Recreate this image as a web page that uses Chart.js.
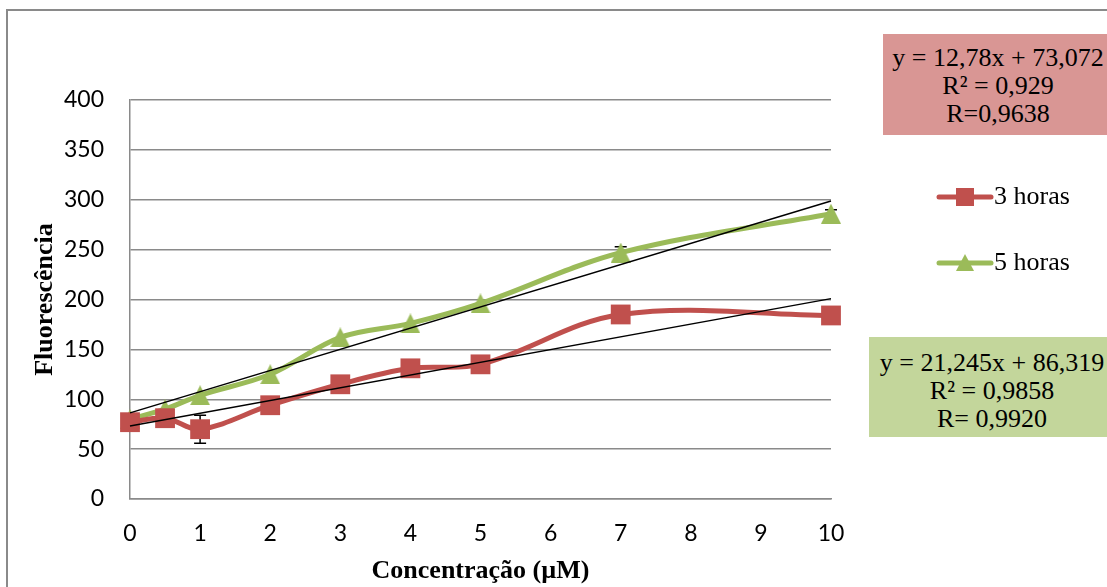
<!DOCTYPE html>
<html><head><meta charset="utf-8">
<script src="https://cdn.jsdelivr.net/npm/chart.js@4"></script>
<style>
html,body{margin:0;padding:0;background:#fff;overflow:hidden;width:1107px;height:587px}
#wrap{position:relative;width:1107px;height:587px;overflow:hidden}
#frame{position:absolute;left:6px;top:9px;width:1130px;height:640px;border:2px solid #8a8a8a;box-sizing:border-box;pointer-events:none}
canvas{position:absolute;left:0;top:0}
.eq{position:absolute;font-family:"Liberation Serif","Times New Roman",serif;font-size:26px;line-height:28px;color:#000;text-align:center;box-sizing:border-box;white-space:nowrap}
#eqRed{left:883px;top:34px;width:230px;height:101px;background:#D99694;padding-top:10px}
#eqGreen{left:869px;top:337px;width:246px;height:100px;background:#C3D69B;padding-top:12px}
</style></head>
<body>
<div id="wrap">
<canvas id="c" width="1107" height="587"></canvas>
<div id="frame"></div>
<div class="eq" id="eqRed">y = 12,78x + 73,072<br>R² = 0,929<br>R=0,9638</div>
<div class="eq" id="eqGreen">y = 21,245x + 86,319<br>R² = 0,9858<br>R= 0,9920</div>
</div>
<script>
const xValues = [0, 0.5, 1, 2, 3, 4, 5, 7, 10];
const red3h   = [77, 81, 70, 94, 115, 131, 135, 185, 184];
const green5h = [80, 90, 104, 125, 162, 176, 196, 247, 286];
const red3hErr   = [0, 0, 14, 0, 0, 0, 0, 0, 0];
const green5hErr = [0, 0, 0, 0, 0, 0, 0, 6, 4];
const trendX = [0, 10];
const red3hTrend   = [73.072, 200.872];
const green5hTrend = [86.319, 298.769];
const yTicks = [0, 50, 100, 150, 200, 250, 300, 350, 400];
const xTicks = [0, 1, 2, 3, 4, 5, 6, 7, 8, 9, 10];
const seriesNames = ['3 horas', '5 horas'];

const RED = '#C0504D', GREEN = '#9BBB59';
const pts = (xs, ys) => xs.map((x, i) => ({x: x, y: ys[i]}));

function triangleImage(w, h, color) {
  const c = document.createElement('canvas');
  c.width = w; c.height = h;
  const g = c.getContext('2d');
  g.fillStyle = color;
  g.beginPath(); g.moveTo(w / 2, 0); g.lineTo(w, h); g.lineTo(0, h); g.closePath(); g.fill();
  return c;
}
const triMarker = triangleImage(20, 20, GREEN);

const errorBars = {
  id: 'errorBars',
  beforeDatasetsDraw(chart) {
    const ctx = chart.ctx, xs = chart.scales.x, ys = chart.scales.y;
    const sets = [[red3h, red3hErr], [green5h, green5hErr]];
    ctx.save();
    ctx.strokeStyle = '#000'; ctx.lineWidth = 1.5;
    sets.forEach(([vals, errs]) => {
      vals.forEach((v, i) => {
        if (!errs[i]) return;
        const px = xs.getPixelForValue(xValues[i]);
        const top = ys.getPixelForValue(v + errs[i]);
        const bot = ys.getPixelForValue(v - errs[i]);
        ctx.beginPath();
        ctx.moveTo(px, top); ctx.lineTo(px, bot);
        ctx.moveTo(px - 6, top); ctx.lineTo(px + 6, top);
        ctx.moveTo(px - 6, bot); ctx.lineTo(px + 6, bot);
        ctx.stroke();
      });
    });
    ctx.restore();
  }
};

const customLegend = {
  id: 'customLegend',
  afterDraw(chart) {
    const ctx = chart.ctx;
    const items = [
      {name: seriesNames[0], color: RED, style: 'rect', y: 197},
      {name: seriesNames[1], color: GREEN, style: 'triangle', y: 263}
    ];
    ctx.save();
    items.forEach(it => {
      ctx.strokeStyle = it.color; ctx.lineWidth = 5; ctx.lineCap = 'round';
      ctx.beginPath(); ctx.moveTo(939, it.y); ctx.lineTo(991, it.y); ctx.stroke();
      ctx.fillStyle = it.color;
      ctx.beginPath();
      if (it.style === 'rect') {
        ctx.rect(956, it.y - 9, 18, 18);
      } else {
        ctx.moveTo(965, it.y - 9);
        ctx.lineTo(974, it.y + 8);
        ctx.lineTo(956, it.y + 8);
        ctx.closePath();
      }
      ctx.fill();
      ctx.fillStyle = '#000';
      ctx.font = '26px "Liberation Serif", "Times New Roman", serif';
      ctx.textBaseline = 'middle'; ctx.textAlign = 'left';
      ctx.fillText(it.name, 994, it.y);
    });
    ctx.restore();
  }
};

new Chart(document.getElementById('c'), {
  type: 'line',
  data: {
    datasets: [
      {label: 'trend3', data: pts(trendX, red3hTrend), borderColor: '#000', borderWidth: 1.5, pointRadius: 0, tension: 0, order: 0, clip: false},
      {label: 'trend5', data: pts(trendX, green5hTrend), borderColor: '#000', borderWidth: 1.5, pointRadius: 0, tension: 0, order: 0, clip: false},
      {label: seriesNames[0], data: pts(xValues, red3h), borderColor: RED, backgroundColor: RED, borderWidth: 5,
       pointStyle: 'rect', pointRadius: 14, pointBorderWidth: 0, pointBackgroundColor: RED, tension: 0.35, order: 1, clip: false},
      {label: seriesNames[1], data: pts(xValues, green5h), borderColor: GREEN, backgroundColor: GREEN, borderWidth: 5,
       pointStyle: triMarker, pointRadius: 10, pointBorderWidth: 0, pointBackgroundColor: GREEN, tension: 0.35, order: 1, clip: false}
    ]
  },
  options: {
    responsive: false, animation: false, devicePixelRatio: 1,
    layout: {padding: {left: 8, top: 100, right: 276, bottom: 0}},
    plugins: {legend: {display: false}, tooltip: {enabled: false}},
    scales: {
      x: {
        type: 'linear', min: 0, max: 10,
        afterBuildTicks: s => { s.ticks = xTicks.map(v => ({value: v})); },
        afterFit: s => { s.height = 88; },
        grid: {display: false, drawTicks: false},
        border: {display: true, color: '#8a8a8a', width: 1.5},
        ticks: {color: '#000', font: {family: 'Lato', size: 23}, padding: 21, maxRotation: 0, autoSkip: false},
        title: {display: true, text: 'Concentração (µM)', color: '#000',
                font: {family: '"Liberation Serif", "Times New Roman", serif', size: 26, weight: 'bold'}, padding: {top: 0, bottom: 0}}
      },
      y: {
        min: 0, max: 400,
        afterBuildTicks: s => { s.ticks = yTicks.map(v => ({value: v})); },
        afterFit: s => { s.width = 122; },
        grid: {color: '#8a8a8a', lineWidth: 1.5, drawTicks: false},
        border: {display: true, color: '#8a8a8a', width: 1.5},
        ticks: {color: '#000', font: {family: 'Lato', size: 23}, padding: 26},
        title: {display: true, text: 'Fluorescência', color: '#000',
                font: {family: '"Liberation Serif", "Times New Roman", serif', size: 26, weight: 'bold'}, padding: {top: 22, bottom: 0}}
      }
    }
  },
  plugins: [errorBars, customLegend]
});
</script>
</body></html>
